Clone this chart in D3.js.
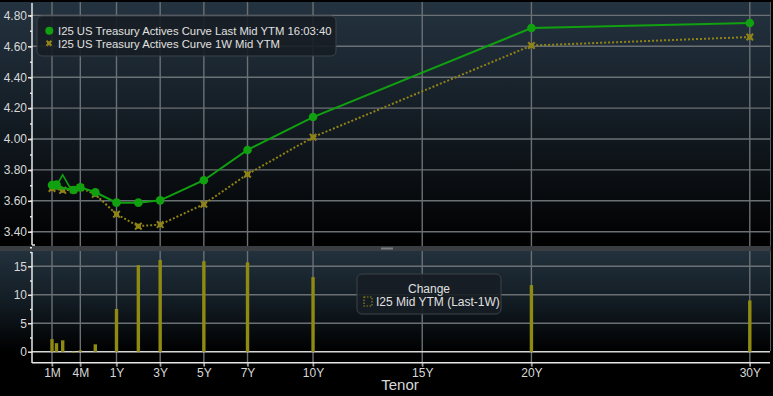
<!DOCTYPE html>
<html>
<head>
<meta charset="utf-8">
<script src="https://cdn.jsdelivr.net/npm/d3@7"></script>
<style>
  html, body { margin: 0; padding: 0; background: #000; }
  svg { display: block; font-family: "Liberation Sans", Arial, sans-serif; }
</style>
</head>
<body>
<div id="chart"></div>
<script>
// tenors of the curve points, in years
const tenors = ["4W", "6W", "8W", "13W", "17W", "26W", "1Y", "2Y", "3Y", "5Y", "7Y", "10Y", "20Y", "30Y"];
const tenorYears = [4/52, 6/52, 8/52, 13/52, 17/52, 26/52, 1, 2, 3, 5, 7, 10, 20, 30];
const lastYtm = [3.702, 3.705, 3.685, 3.670, 3.687, 3.655, 3.588, 3.588, 3.603, 3.733, 3.929, 4.142, 4.718, 4.751];
const weekAgoYtm = [3.680, 3.690, 3.668, 3.672, 3.685, 3.642, 3.513, 3.436, 3.446, 3.578, 3.772, 4.012, 4.605, 4.660];
const changeBp = [2.2, 1.5, 2.0, -0.2, 0.25, 1.3, 7.5, 15.2, 16.1, 15.9, 15.7, 13.1, 11.7, 9.0];
const markerShape = ["dot", "dot", "triangle", "dot", "dot", "dot", "dot", "dot", "dot", "dot", "dot", "dot", "dot", "dot"];

const xTickLabels = ["1M", "4M", "1Y", "3Y", "5Y", "7Y", "10Y", "15Y", "20Y", "30Y"];
const xTickYears = [4/52, 17/52, 1, 3, 5, 7, 10, 15, 20, 30];
const yTicksTop = [3.40, 3.60, 3.80, 4.00, 4.20, 4.40, 4.60, 4.80];
const yTicksBottom = [0, 5, 10, 15];

const W = 773, H = 396;
const axisX = 32, plotRight = 770;

// tenor axis: stretched at the short end, linear in years from 1Y on
const x = d3.scaleLinear()
  .domain([4/52, 6/52, 8/52, 13/52, 17/52, 26/52, 1, 30])
  .range([52, 56.5, 62.7, 73.5, 80.3, 95.3, 116.5, 749.8]);

const topY = d3.scaleLinear().domain([3.40, 4.80]).range([231.7, 15.4]);
const botY = d3.scaleLinear().domain([0, 15]).range([351.7, 266.3]);

const svg = d3.select("#chart").append("svg").attr("width", W).attr("height", H);
const defs = svg.append("defs");

const g1 = defs.append("linearGradient").attr("id", "bgTop").attr("x1", 0).attr("y1", 0).attr("x2", 0).attr("y2", 1);
g1.append("stop").attr("offset", "0%").attr("stop-color", "#243340");
g1.append("stop").attr("offset", "45%").attr("stop-color", "#151e26");
g1.append("stop").attr("offset", "100%").attr("stop-color", "#000");
const g2 = defs.append("linearGradient").attr("id", "bgBot").attr("x1", 0).attr("y1", 0).attr("x2", 0).attr("y2", 1);
g2.append("stop").attr("offset", "0%").attr("stop-color", "#22313c");
g2.append("stop").attr("offset", "55%").attr("stop-color", "#111a21");
g2.append("stop").attr("offset", "100%").attr("stop-color", "#000");

svg.append("rect").attr("width", W).attr("height", H).attr("fill", "#000");
svg.append("rect").attr("x", 0).attr("y", 2).attr("width", plotRight).attr("height", 244).attr("fill", "url(#bgTop)");
svg.append("rect").attr("x", 0).attr("y", 251).attr("width", plotRight).attr("height", 100).attr("fill", "url(#bgBot)");
svg.append("line").attr("x1", plotRight + 0.5).attr("x2", plotRight + 0.5).attr("y1", 2).attr("y2", 351).attr("stroke", "#555b60");

// separator between panels
svg.append("rect").attr("x", 0).attr("y", 246).attr("width", plotRight + 1).attr("height", 5).attr("fill", "#3a3e42");
svg.append("rect").attr("x", 381).attr("y", 247.5).attr("width", 12).attr("height", 2).attr("fill", "#7a7e82");

const gridColor = "#6b7075";

// vertical grid lines
xTickYears.forEach(t => {
  svg.append("line").attr("x1", x(t)).attr("x2", x(t)).attr("y1", 2).attr("y2", 246)
    .attr("stroke", gridColor).attr("stroke-width", 1.4);
  svg.append("line").attr("x1", x(t)).attr("x2", x(t)).attr("y1", 251).attr("y2", 366)
    .attr("stroke", gridColor).attr("stroke-width", 1.4);
});

// horizontal grid lines
yTicksTop.forEach(v => {
  svg.append("line").attr("x1", axisX).attr("x2", plotRight).attr("y1", topY(v)).attr("y2", topY(v))
    .attr("stroke", gridColor).attr("stroke-width", 1.4);
});
yTicksBottom.forEach(v => {
  svg.append("line").attr("x1", axisX).attr("x2", plotRight).attr("y1", botY(v)).attr("y2", botY(v))
    .attr("stroke", v === 0 ? "#d8d8d8" : gridColor).attr("stroke-width", v === 0 ? 1.6 : 1.4);
});

// y axes
svg.append("g").attr("transform", `translate(${axisX},0)`)
  .call(d3.axisLeft(topY).tickValues(yTicksTop).tickFormat(d3.format(".2f")).tickSize(4));
svg.append("g").attr("transform", `translate(${axisX},0)`)
  .call(d3.axisLeft(topY).tickValues(d3.range(3.3, 4.86, 0.1)).tickFormat("").tickSize(2));
svg.append("g").attr("transform", `translate(${axisX},0)`)
  .call(d3.axisLeft(botY).tickValues(yTicksBottom).tickFormat(d3.format("d")).tickSize(4));
svg.append("g").attr("transform", `translate(${axisX},0)`)
  .call(d3.axisLeft(botY).tickValues([2.5, 7.5, 12.5, 17.5]).tickFormat("").tickSize(2));

svg.selectAll(".domain").remove();
svg.selectAll(".tick line").attr("stroke", "#e8e8e8").attr("stroke-width", 1.5);
svg.selectAll(".tick text").attr("fill", "#d8d8d8").attr("font-size", 12)
  .attr("font-family", "'Liberation Sans', Arial, sans-serif").attr("x", -5);

svg.append("line").attr("x1", axisX).attr("x2", axisX).attr("y1", 3).attr("y2", 245).attr("stroke", "#e8e8e8").attr("stroke-width", 1.5);
svg.append("line").attr("x1", axisX).attr("x2", axisX + 3).attr("y1", 245).attr("y2", 245).attr("stroke", "#e8e8e8").attr("stroke-width", 1.5);
svg.append("line").attr("x1", axisX).attr("x2", axisX).attr("y1", 252).attr("y2", 363).attr("stroke", "#e8e8e8").attr("stroke-width", 1.5);

// x axis at the bottom
const axX = svg.append("g").attr("transform", "translate(0,362.7)")
  .call(d3.axisBottom(x).tickValues(xTickYears).tickFormat((d, i) => xTickLabels[i]).tickSize(4));
axX.select(".domain").remove();
axX.selectAll(".tick line").attr("stroke", "#9a9ea2").attr("stroke-width", 1.4);
axX.selectAll(".tick text").attr("fill", "#d8d8d8").attr("font-size", 12).attr("dy", "0.6em");
svg.append("line").attr("x1", axisX).attr("x2", plotRight).attr("y1", 362.7).attr("y2", 362.7)
  .attr("stroke", "#e8e8e8").attr("stroke-width", 1.5);
svg.append("text").attr("x", 400).attr("y", 390).attr("text-anchor", "middle")
  .attr("fill", "#d8d8d8").attr("font-size", 15).text("Tenor");

// change bars
const barColor = "#8f8a12";
svg.append("g").selectAll("rect").data(changeBp).join("rect")
  .attr("x", (d, i) => x(tenorYears[i]) - 1.7)
  .attr("width", 3.4)
  .attr("y", d => botY(Math.max(0, d)))
  .attr("height", d => Math.abs(botY(d) - botY(0)))
  .attr("fill", barColor);

// 1W curve (dotted)
const yellow = "#8f8318";
const line1w = d3.line().x((d, i) => x(tenorYears[i])).y(d => topY(d));
svg.append("path").datum(weekAgoYtm).attr("d", line1w)
  .attr("fill", "none").attr("stroke", yellow).attr("stroke-width", 2).attr("stroke-dasharray", "2,2");
const star = d3.symbol().type(d3.symbolX).size(30);
const mk = svg.append("g").selectAll("g").data(weekAgoYtm).join("g")
  .attr("transform", (d, i) => `translate(${x(tenorYears[i])},${topY(d)})`);
mk.append("path").attr("d", star).attr("stroke", yellow).attr("stroke-width", 2).attr("fill", "none");
mk.append("rect").attr("x", -2.5).attr("y", -2.5).attr("width", 5).attr("height", 5).attr("fill", yellow);

// last curve
const green = "#10a010";
const lineLast = d3.line().x((d, i) => x(tenorYears[i])).y(d => topY(d));
svg.append("path").datum(lastYtm).attr("d", lineLast)
  .attr("fill", "none").attr("stroke", green).attr("stroke-width", 2);
lastYtm.forEach((v, i) => {
  if (markerShape[i] === "dot") {
    svg.append("circle").attr("cx", x(tenorYears[i])).attr("cy", topY(v)).attr("r", 4.3).attr("fill", green);
  } else {
    svg.append("path")
      .attr("d", d3.symbol().type(d3.symbolTriangle).size(110)())
      .attr("transform", `translate(${x(tenorYears[i])},${topY(v) - 3.5})`)
      .attr("fill", "none").attr("stroke", green).attr("stroke-width", 1.6);
  }
});

// legend (top)
const lg = svg.append("g");
lg.append("rect").attr("x", 37).attr("y", 16).attr("width", 299).attr("height", 40).attr("rx", 5)
  .attr("fill", "#161d23").attr("fill-opacity", 0.9).attr("stroke", "#3c4349");
lg.append("circle").attr("cx", 49.3).attr("cy", 30.7).attr("r", 4).attr("fill", green);
lg.append("path").attr("d", d3.symbol().type(d3.symbolX).size(18)).attr("transform", "translate(49,43.3)")
  .attr("stroke", yellow).attr("stroke-width", 2);
lg.append("rect").attr("x", 47).attr("y", 41.3).attr("width", 4).attr("height", 4).attr("fill", yellow);
lg.append("text").attr("x", 58).attr("y", 35).attr("fill", "#e0e0e0").attr("font-size", 11.3)
  .text("I25 US Treasury Actives Curve Last Mid YTM 16:03:40");
lg.append("text").attr("x", 58).attr("y", 48).attr("fill", "#e0e0e0").attr("font-size", 11.3)
  .text("I25 US Treasury Actives Curve 1W Mid YTM");

// legend (change)
const lc = svg.append("g");
lc.append("rect").attr("x", 357).attr("y", 274).attr("width", 144).attr("height", 40).attr("rx", 5)
  .attr("fill", "#161d23").attr("fill-opacity", 0.9).attr("stroke", "#3c4349");
lc.append("text").attr("x", 429).attr("y", 293).attr("text-anchor", "middle").attr("fill", "#e0e0e0")
  .attr("font-size", 12).text("Change");
lc.append("rect").attr("x", 364).attr("y", 297).attr("width", 8).attr("height", 9)
  .attr("fill", "none").attr("stroke", barColor).attr("stroke-width", 1.2).attr("stroke-dasharray", "1.5,1.5");
lc.append("text").attr("x", 376).attr("y", 306).attr("fill", "#e0e0e0").attr("font-size", 12)
  .text("I25 Mid YTM (Last-1W)");
</script>
</body>
</html>
